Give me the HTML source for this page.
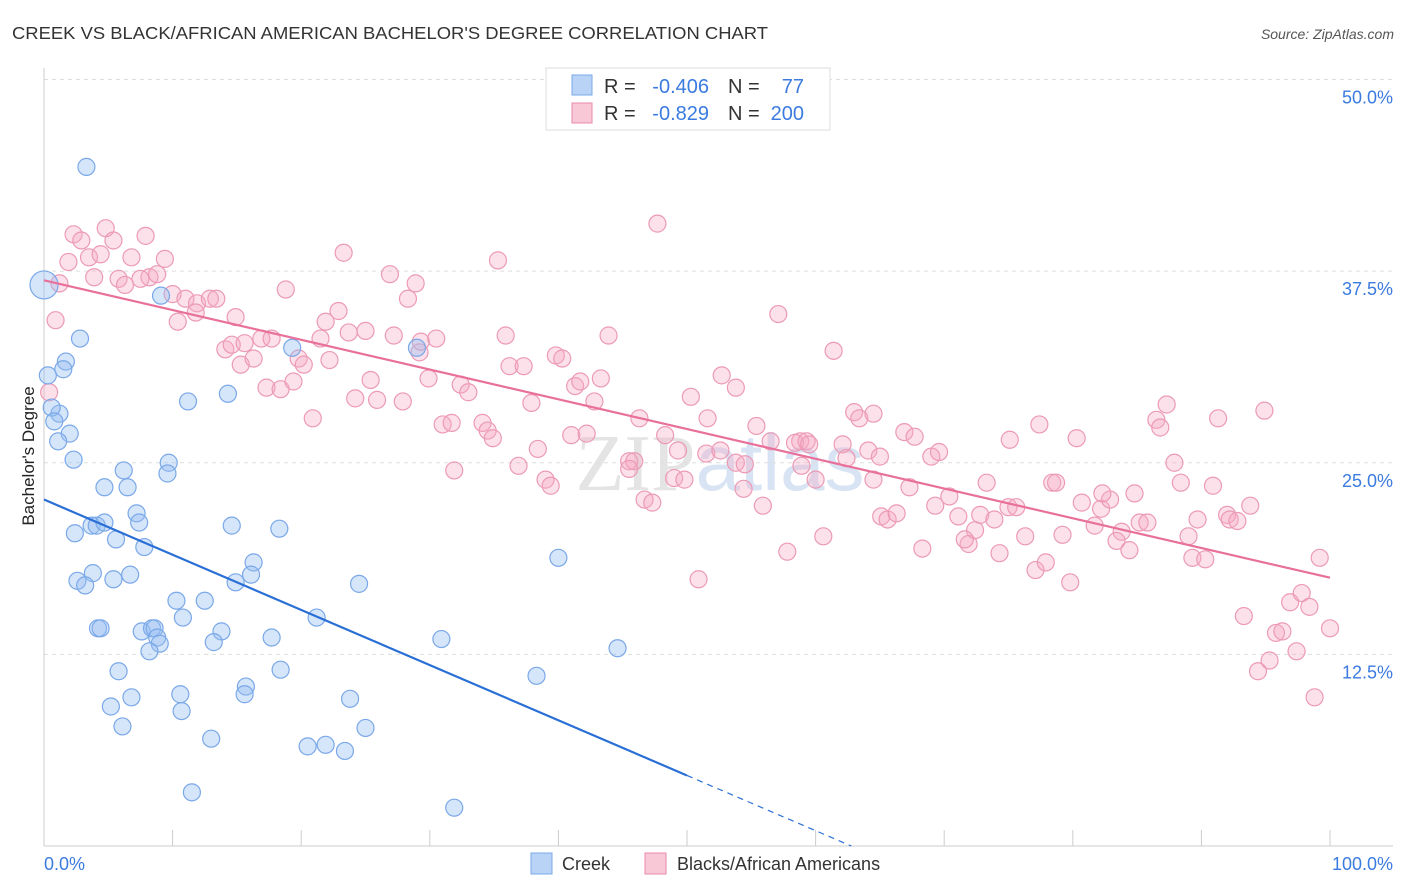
<!DOCTYPE html>
<html><head><meta charset="utf-8"><style>
body{margin:0;background:#fff;font-family:"Liberation Sans",sans-serif;}
svg{display:block}
</style></head><body>
<svg id="chart" width="1406" height="892" xmlns="http://www.w3.org/2000/svg">
<text x="12" y="39" font-size="17.5" fill="#333" textLength="756" lengthAdjust="spacingAndGlyphs">CREEK VS BLACK/AFRICAN AMERICAN BACHELOR'S DEGREE CORRELATION CHART</text>
<text x="1394" y="39" font-size="14" fill="#555" font-style="italic" text-anchor="end">Source: ZipAtlas.com</text>
<text x="720" y="490" font-size="80" fill="#e4e4e4" text-anchor="middle" font-family="Liberation Serif">ZIP<tspan fill="#d8e4f4" font-family="Liberation Sans">atlas</tspan></text>
<g id="grid"></g><g id="axes"></g><g id="pts"></g><g id="lines"></g>
<text transform="translate(34,456) rotate(-90)" font-size="17" fill="#222" text-anchor="middle">Bachelor's Degree</text>
<g>
<rect x="546" y="68" width="284" height="62" fill="#fff" stroke="#ddd"/>
<rect x="572" y="75" width="20" height="20" fill="#b9d3f6" stroke="#7aa8e8"/>
<rect x="572" y="103" width="20" height="20" fill="#f9c8d7" stroke="#e88aab"/>
<text x="604" y="93" font-size="20" fill="#333">R =</text>
<text x="709" y="93" font-size="20" fill="#3b7be0" text-anchor="end">-0.406</text>
<text x="728" y="93" font-size="20" fill="#333">N =</text>
<text x="804" y="93" font-size="20" fill="#3b7be0" text-anchor="end">77</text>
<text x="604" y="120" font-size="20" fill="#333">R =</text>
<text x="709" y="120" font-size="20" fill="#3b7be0" text-anchor="end">-0.829</text>
<text x="728" y="120" font-size="20" fill="#333">N =</text>
<text x="804" y="120" font-size="20" fill="#3b7be0" text-anchor="end">200</text>
</g>
<g>
<rect x="531" y="853" width="21" height="21" fill="#b9d3f6" stroke="#7aa8e8"/>
<text x="562" y="870" font-size="18" fill="#333">Creek</text>
<rect x="645" y="853" width="21" height="21" fill="#f9c8d7" stroke="#e88aab"/>
<text x="677" y="870" font-size="18" fill="#333">Blacks/African Americans</text>
</g>
</svg>
<script>
const yTicks=[12.5,25,37.5,50];
const yTickLabels=["12.5%","25.0%","37.5%","50.0%"];
const xTickLabels=["0.0%","100.0%"];
const creekX=[3.3,0,2.8,1.7,1.5,0.3,1.2,0.6,0.8,2.0,1.1,2.3,9.1,19.3,29.0,11.2,14.3,6.2,4.7,6.5,9.7,9.6,7.2,7.4,2.4,3.7,4.1,4.7,5.6,7.8,14.6,18.3,3.8,2.6,3.2,5.4,6.7,16.3,16.1,14.9,24.5,40.0,10.3,12.5,10.8,21.2,4.2,4.4,7.6,8.4,8.6,8.8,9.0,8.2,13.8,13.2,17.7,30.9,44.6,5.8,6.8,10.6,10.7,5.2,6.1,15.7,15.6,18.4,23.8,25.0,38.3,13.0,20.5,21.9,23.4,11.5,31.9];
const creekY=[44.3,36.6,33.1,31.6,31.1,30.7,28.2,28.6,27.7,26.9,26.4,25.2,35.9,32.5,32.5,29.0,29.5,24.5,23.4,23.4,25.0,24.3,21.7,21.1,20.4,20.9,20.9,21.1,20.0,19.5,20.9,20.7,17.8,17.3,17.0,17.4,17.7,18.5,17.7,17.2,17.1,18.8,16.0,16.0,14.9,14.9,14.2,14.2,14.0,14.2,14.2,13.6,13.2,12.7,14.0,13.3,13.6,13.5,12.9,11.4,9.7,9.9,8.8,9.1,7.8,10.4,9.9,11.5,9.6,7.7,11.1,7.0,6.5,6.6,6.2,3.5,2.5];
const blackX=[2.3,2.9,4.8,5.4,7.9,1.9,3.5,4.4,6.8,9.4,3.9,5.8,6.3,8.2,8.8,7.5,10.0,11.0,11.9,12.9,13.4,11.8,10.4,0.9,0.4,1.2,14.9,14.1,14.6,15.6,15.3,16.3,16.9,17.7,18.8,19.8,20.2,17.3,18.4,19.4,20.9,21.9,22.9,23.3,21.5,23.7,22.2,25.0,25.4,24.2,25.9,26.9,28.9,28.3,27.2,29.2,29.3,30.5,27.9,29.9,31.0,31.9,32.4,33.0,31.7,34.1,34.5,34.9,35.3,35.9,36.2,37.3,36.9,37.9,38.4,39.0,39.4,39.8,40.3,41.3,41.7,41.0,42.2,43.3,42.8,43.9,45.5,45.9,45.5,46.7,47.3,47.7,46.3,48.3,49.3,49.0,49.8,50.3,50.9,51.6,51.5,52.6,52.7,53.8,53.8,54.5,54.4,55.4,55.9,56.5,57.1,57.8,58.8,58.4,59.3,58.9,59.5,60.0,60.6,61.4,62.1,62.4,63.0,63.4,64.5,64.5,64.1,65.0,65.1,65.6,66.3,66.9,67.7,67.3,68.3,69.0,69.3,69.6,70.4,71.1,71.9,72.4,71.6,72.8,73.9,73.3,74.3,75.0,75.6,75.1,76.3,77.1,77.4,77.9,78.4,78.7,79.2,79.8,80.3,80.7,81.7,82.2,82.9,82.3,83.8,83.4,84.4,84.8,85.2,85.8,86.5,86.8,87.3,87.9,88.4,89.0,89.3,89.7,90.3,90.9,91.3,92.0,92.2,92.8,93.3,93.8,94.4,94.9,95.3,95.8,96.3,96.9,97.4,97.8,98.4,98.8,99.2,100.0];
const blackY=[39.9,39.5,40.3,39.5,39.8,38.1,38.4,38.6,38.4,38.3,37.1,37.0,36.6,37.1,37.3,37.0,36.0,35.7,35.4,35.7,35.7,34.8,34.2,34.3,29.6,36.7,34.5,32.4,32.7,32.8,31.4,31.8,33.1,33.1,36.3,31.8,31.4,29.9,29.8,30.3,27.9,34.2,34.9,38.7,33.1,33.5,31.7,33.6,30.4,29.2,29.1,37.3,36.7,35.7,33.3,32.2,32.9,33.1,29.0,30.5,27.5,24.5,30.1,29.6,27.6,27.6,27.1,26.6,38.2,33.3,31.3,31.3,24.8,28.9,25.9,23.9,23.5,32.0,31.8,30.0,30.3,26.8,26.9,30.5,29.0,33.3,25.1,25.1,24.6,22.6,22.4,40.6,27.9,26.8,25.8,24.0,23.9,29.3,17.4,27.9,25.6,25.8,30.7,29.9,25.0,24.9,23.3,27.4,22.2,26.4,34.7,19.2,26.4,26.3,26.4,24.8,26.2,23.9,20.2,32.3,26.2,25.3,28.3,27.9,28.2,23.9,25.8,25.4,21.5,21.3,21.7,27.0,26.7,23.4,19.4,25.4,22.2,25.7,22.8,21.5,19.7,20.6,20.0,21.6,21.3,23.7,19.1,22.1,22.1,26.5,20.2,18.0,27.5,18.5,23.7,23.7,20.3,17.2,26.6,22.4,20.9,22.0,22.6,23.0,20.5,19.9,19.3,23.0,21.1,21.1,27.8,27.3,28.8,25.0,23.7,20.2,18.8,21.3,18.7,23.5,27.9,21.6,21.3,21.2,15.0,22.2,11.4,28.4,12.1,13.9,14.0,15.9,12.7,16.5,15.6,9.7,18.8,14.2];
const creekTrend=[22.6,-0.36];
const blackTrend=[36.9,-0.194];
const X0=44,X1=1330,Y0=846,Ypp=15.33;
const sx=v=>X0+v*(X1-X0)/100, sy=v=>Y0-v*Ypp;
const NS="http://www.w3.org/2000/svg";
function mk(tag,attrs,parent){const e=document.createElementNS(NS,tag);for(const k in attrs)e.setAttribute(k,attrs[k]);document.getElementById(parent).appendChild(e);return e;}
let g=mk('line',{x1:44,x2:1393,y1:sy(50),y2:sy(50),stroke:'#ddd','stroke-dasharray':'4,4'},'grid');


yTicks.forEach((t,i)=>{
 const l=mk('line',{x1:44,x2:1393,y1:sy(t),y2:sy(t),stroke:'#ddd','stroke-dasharray':'4,4'},'grid');
 
 
 const tx=mk('text',{x:1393,y:sy(t)+24,'font-size':18,fill:'#3b7be0','text-anchor':'end'},'grid');
 tx.textContent=yTickLabels[i];
 
 
});
let a=mk('line',{x1:44,x2:44,y1:68,y2:846,stroke:'#ccc'},'axes');


a=mk('line',{x1:44,x2:1393,y1:846,y2:846,stroke:'#ccc'},'axes');


for(let i=0;i<=10;i++){const t=mk('line',{x1:sx(i*10),x2:sx(i*10),y1:830,y2:846,stroke:'#ccc'},'axes');
 
 }
[[0,'start',44],[1,'end',1393]].forEach(([i,an,x])=>{const t=mk('text',{x:x,y:870,'font-size':18,fill:'#3b7be0','text-anchor':an},'axes');t.textContent=xTickLabels[i];
 
 });
blackX.forEach((x,i)=>{const c=mk('circle',{cx:sx(x),cy:sy(blackY[i]),r:8.5,fill:'rgba(246,170,196,0.35)',stroke:'#ec9ab5','stroke-width':1.2},'pts');
 
 });
creekX.forEach((x,i)=>{const c=mk('circle',{cx:sx(x),cy:sy(creekY[i]),r:i==1?14:8.5,fill:'rgba(150,190,242,0.4)',stroke:'#7aa8e8','stroke-width':1.2},'pts');
 
 });
const cf=x=>creekTrend[0]+creekTrend[1]*x, bf=x=>blackTrend[0]+blackTrend[1]*x;
let ln=mk('line',{x1:sx(0),y1:sy(cf(0)),x2:sx(50),y2:sy(cf(50)),stroke:'#2a6fd6','stroke-width':2.2},'lines');


const xe=creekTrend[0]/-creekTrend[1];
ln=mk('line',{x1:sx(50),y1:sy(cf(50)),x2:sx(xe),y2:sy(0),stroke:'#2a6fd6','stroke-width':1.2,'stroke-dasharray':'6,5'},'lines');


ln=mk('line',{x1:sx(0),y1:sy(bf(0)),x2:sx(100),y2:sy(bf(100)),stroke:'#e8709a','stroke-width':2.2},'lines');


</script>
</body></html>
